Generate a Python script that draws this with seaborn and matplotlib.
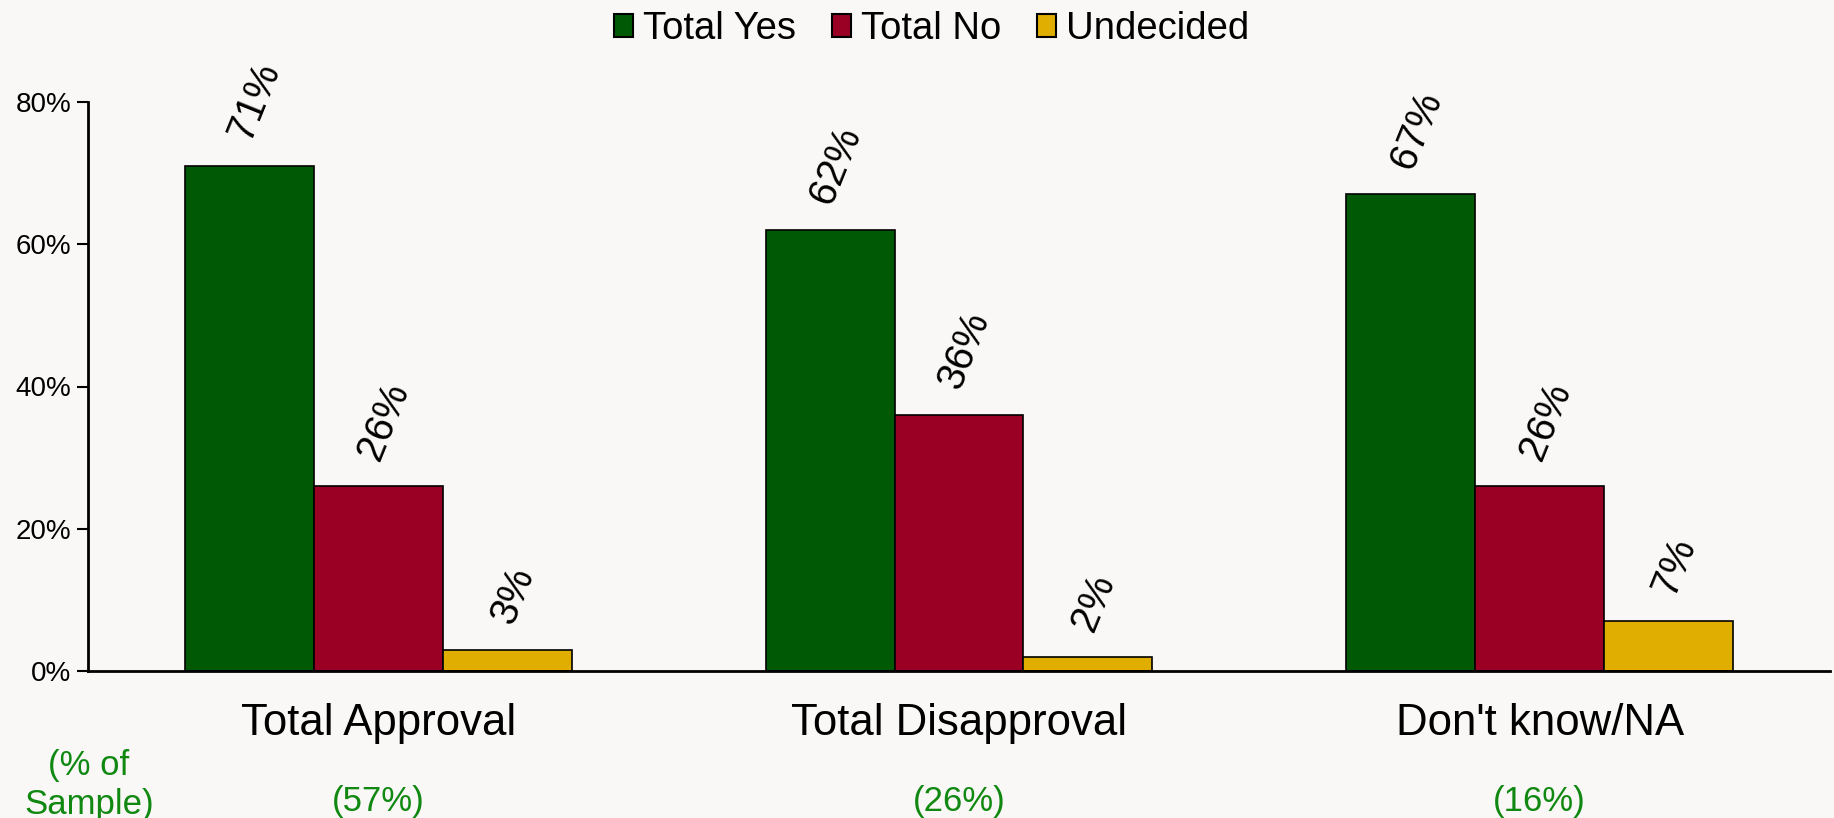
import matplotlib
matplotlib.use("Agg")
import matplotlib.pyplot as plt
import matplotlib.transforms as mtransforms
from matplotlib.patches import Patch
import seaborn as sns
import pandas as pd

# Data
categories = ["Total Approval", "Total Disapproval", "Don't know/NA"]
sample_share = ["(57%)", "(26%)", "(16%)"]
series = ["Total Yes", "Total No", "Undecided"]
total_yes = [0.71, 0.62, 0.67]
total_no = [0.26, 0.36, 0.26]
undecided = [0.03, 0.02, 0.07]

colors = ["#005a05", "#990024", "#e0ae00"]
bg = "#f9f8f6"
note_green = "#118811"

rows = []
for name, vals in zip(series, [total_yes, total_no, undecided]):
    for cat, v in zip(categories, vals):
        rows.append({"category": cat, "series": name, "value": v})
df = pd.DataFrame(rows)

sns.set_theme(style="white")
plt.rcParams["font.family"] = ["Liberation Sans", "DejaVu Sans"]
plt.rcParams["text.color"] = "black"
plt.rcParams["xtick.color"] = "black"
plt.rcParams["ytick.color"] = "black"

fig = plt.figure(figsize=(18.34, 8.18), dpi=100, facecolor=bg)
ax = fig.add_axes([88 / 1834, 1 - 671 / 818, (1830 - 88) / 1834, (671 - 102) / 818])
ax.set_facecolor(bg)

sns.barplot(data=df, x="category", y="value", hue="series", order=categories,
            hue_order=series, palette=colors, width=0.666, saturation=1,
            edgecolor="black", linewidth=1.2, legend=False, ax=ax)

ax.set_xlim(-0.5, 2.5)
ax.set_ylim(0, 0.8)
ax.set_yticks([0, 0.2, 0.4, 0.6, 0.8])
ax.set_yticklabels(["0%", "20%", "40%", "60%", "80%"], fontsize=20)
ax.tick_params(axis="y", length=8, width=1.5, color="black", left=True, pad=4)
ax.tick_params(axis="x", length=0, labelsize=31.5, pad=23)
ax.set_xlabel("")
ax.set_ylabel("")
for side in ["top", "right"]:
    ax.spines[side].set_visible(False)
for side in ["left", "bottom"]:
    ax.spines[side].set_color("black")
    ax.spines[side].set_linewidth(2)

# value labels above bars
for container in ax.containers:
    for bar in container:
        h = bar.get_height()
        ax.annotate(f"{h * 100:.0f}%", (bar.get_x() + bar.get_width() / 2, h),
                    xytext=(4, 15), textcoords="offset points",
                    ha="center", va="bottom", rotation=68, fontsize=28.5,
                    color="black", annotation_clip=False)

# sample share notes under the category labels
trans = mtransforms.blended_transform_factory(ax.transData, fig.transFigure)
for i, s in enumerate(sample_share):
    ax.text(i, 1 - 801 / 818, s, transform=trans, ha="center", va="center",
            fontsize=25, color=note_green)
fig.text(89 / 1834, 1 - 785 / 818, "(% of\nSample)", ha="center", va="center",
         fontsize=25, color=note_green, linespacing=1.2)

handles = [Patch(facecolor=c, edgecolor="black", linewidth=1.5) for c in colors]
fig.legend(handles, series, loc="center", bbox_to_anchor=(0.508, 1 - 29 / 818),
           ncol=3, frameon=False, fontsize=27.5, handlelength=0.5, handleheight=0.55,
           handletextpad=0.25, columnspacing=0.95, borderpad=0)

fig.savefig("out.png", dpi=100, facecolor=bg)
